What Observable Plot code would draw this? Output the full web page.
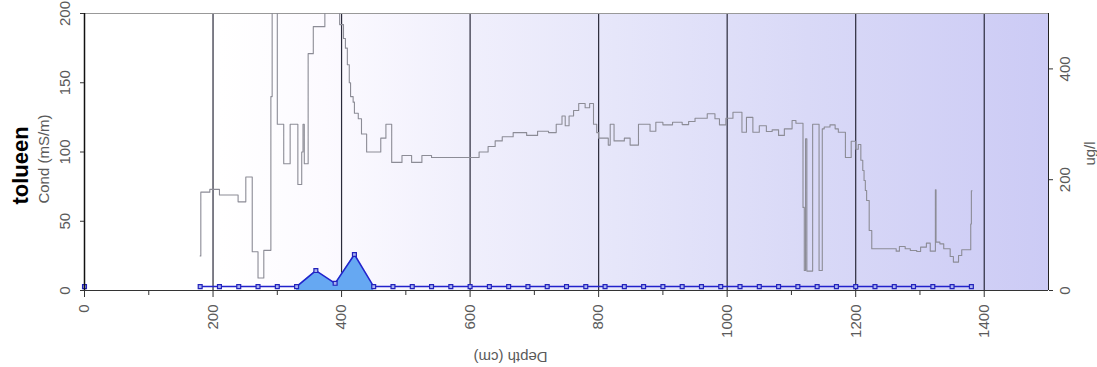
<!DOCTYPE html>
<html><head><meta charset="utf-8">
<script src="https://cdn.jsdelivr.net/npm/d3@7"></script>
<script src="https://cdn.jsdelivr.net/npm/@observablehq/plot@0.6"></script>
<style>body{margin:0;background:#fff} svg{display:block} svg text{font-family:"Liberation Sans", Arial, sans-serif}</style>
</head><body><div id="chart"></div>
<script>
// Conductivity (mS/m) step profile vs depth (cm)
const condDepth = [180,181,195,210,239,251,261,270,279,290,292,300,310,320,332,338,340,342,348,356,374,397,403,406,409,412,414,418,420,426,431,439,461,469,478,494,509,525,540,614,628,639,650,667,688,705,722,734,743,748,754,761,769,779,786,792,797,800,815,818,824,840,849,862,880,889,900,915,930,940,950,969,981,988,998,1009,1023,1030,1040,1050,1061,1070,1080,1089,1101,1107,1118,1120,1122,1124,1133,1143,1148,1151,1160,1168,1173,1184,1193,1200,1204,1208,1211,1213,1215,1217,1221,1225,1263,1268,1277,1285,1295,1301,1310,1316,1324,1325,1331,1337,1347,1352,1360,1365,1379,1380,1381];
const condValue = [25,71,73,69,64,82,28,9,29,140,250,120,91.5,120,76.5,100,120,91.5,171,190.5,250,192,182,175,163,150,140,136,128,124,113,100,110,120,92.5,97.5,92.5,97.5,96,100,104,108,111,114,112,115,114,120,126,119,126,130,135,132,135,120,114,110,105,120,108,110,105,120,115,121.5,119.6,121.5,119.8,122,124.4,127.6,124,119.6,124.4,128.7,114.3,125,114.3,119,114.8,116,112,116.7,122.7,120.8,60,14.4,109.5,14,120,14.4,116.7,118,119.6,116.7,114.3,96,107.8,102,105.4,94,86.6,79.4,72.2,65,43.3,30.1,28.4,31.8,30.1,28.9,28.2,31.3,34.2,28.4,72.7,34.9,33.7,30.1,24.5,20.5,25.3,29.4,48,72,72];

// Toluene (ug/l) samples vs depth (cm)
const tolDepth = [0,180,210,240,270,300,330,360,390,420,450,480,510,540,570,600,630,660,690,720,750,780,810,840,870,900,930,960,990,1020,1050,1080,1110,1140,1170,1200,1230,1260,1290,1320,1350,1380];
const tolValue = [7,7,7,7,7,7,7,36,13,65,7,7,7,7,7,7,7,7,7,7,7,7,7,7,7,7,7,7,7,7,7,7,7,7,7,7,7,7,7,7,7,7];

const xTicks = [0,200,400,600,800,1000,1200,1400];
const xMinorTicks = [100,300,500,700,900,1100,1300];
const gridDepths = [200,400,600,800,1000,1200,1400];
const condTicks = [0,50,100,150,200];
const tolTicks = [0,200,400];
const condMax = 200, tolMax = 500;
const k = condMax / tolMax;

const cond = condDepth.map((d,i)=>({depth:d, v:condValue[i]}));
const tol = tolDepth.map((d,i)=>({depth:d, v:tolValue[i]*k}));
const tolLine = tol.filter(d=>d.depth>=180);
const tolArea = tol.filter(d=>d.depth>=330 && d.depth<=450);

const fontFamily = "Liberation Sans, Arial, sans-serif";

const plot = Plot.plot({
  width: 1097, height: 367,
  marginLeft: 84, marginRight: 49, marginTop: 13, marginBottom: 77,
  style: {fontFamily, fontSize: "15px", color: "#5a5a5a", background: "#fff"},
  x: {domain: [0,1500]},
  y: {domain: [0,200]},
  marks: [
    Plot.frame({fill: "url(#bggrad)", stroke: null}),
    Plot.ruleX(gridDepths, {stroke: "#2a2a3a", strokeWidth: 1.2}),
    Plot.ruleY([200], {stroke: "#999"}),
    Plot.line(cond, {x: "depth", y: "v", curve: "step-after", stroke: "#8c8c96", strokeWidth: 1.1, clip: true}),
    Plot.areaY(tolArea, {x: "depth", y: "v", fill: "#66a8f2"}),
    Plot.line(tolLine, {x: "depth", y: "v", stroke: "#2222cc", strokeWidth: 1.5}),
    Plot.dot(tol, {x: "depth", y: "v", symbol: "square", r: 2.2, stroke: "#2222bb", fill: "#aab4f0", strokeWidth: 1.2}),
    Plot.ruleX([0], {stroke: "#111", strokeWidth: 1.5}),
    Plot.ruleX([1500], {stroke: "#222"}),
    Plot.ruleY([0], {stroke: "#333"}),
    Plot.axisX({ticks: xMinorTicks, tickSize: 5, tickFormat: () => "", label: null, stroke: "#333"}),
    Plot.axisX({ticks: xTicks, tickSize: 7, tickRotate: -90, tickPadding: 7, tickFormat: d => String(d), label: null, stroke: "#333"}),
    Plot.axisY({ticks: condTicks, tickSize: 4, tickRotate: -90, tickPadding: 11, tickFormat: d => String(d), label: null, stroke: "#333"}),
    Plot.axisY({anchor: "right", ticks: tolTicks.map(v=>v*k), tickFormat: d => String(Math.round(d/k)), tickSize: 4, tickRotate: -90, tickPadding: 17, label: null, stroke: "#333"}),
    Plot.text(["tolueen"], {frameAnchor: "left", textAnchor: "middle", dx: -64, dy: 13.5, rotate: -90, fontSize: 22, fontWeight: "bold", fill: "#000"}),
    Plot.text(["Cond (mS/m)"], {frameAnchor: "left", textAnchor: "middle", dx: -40, dy: 7, rotate: -90, fontSize: 15, fill: "#5a5a5a"}),
    Plot.text(["ug/l"], {frameAnchor: "right", textAnchor: "middle", dx: 42, dy: 1.5, rotate: -90, fontSize: 15, fill: "#5a5a5a"}),
    Plot.text(["Depth (cm)"], {frameAnchor: "bottom", textAnchor: "middle", dx: -56, dy: 61, rotate: 180, fontSize: 15, fill: "#5a5a5a"})
  ]
});

const defs = d3.select(plot).insert("defs", ":first-child");
const g = defs.append("linearGradient").attr("id", "bggrad").attr("x1", "0").attr("x2", "1").attr("y1", "0").attr("y2", "0");
[[0,"#ffffff"],[0.14,"#ffffff"],[0.25,"#fcfaff"],[0.4,"#f0effc"],[0.55,"#e6e6fa"],[0.75,"#d9d9f7"],[1,"#cccbf5"]]
  .forEach(([o,c]) => g.append("stop").attr("offset", o).attr("stop-color", c));

document.getElementById("chart").append(plot);
</script>
</body></html>
